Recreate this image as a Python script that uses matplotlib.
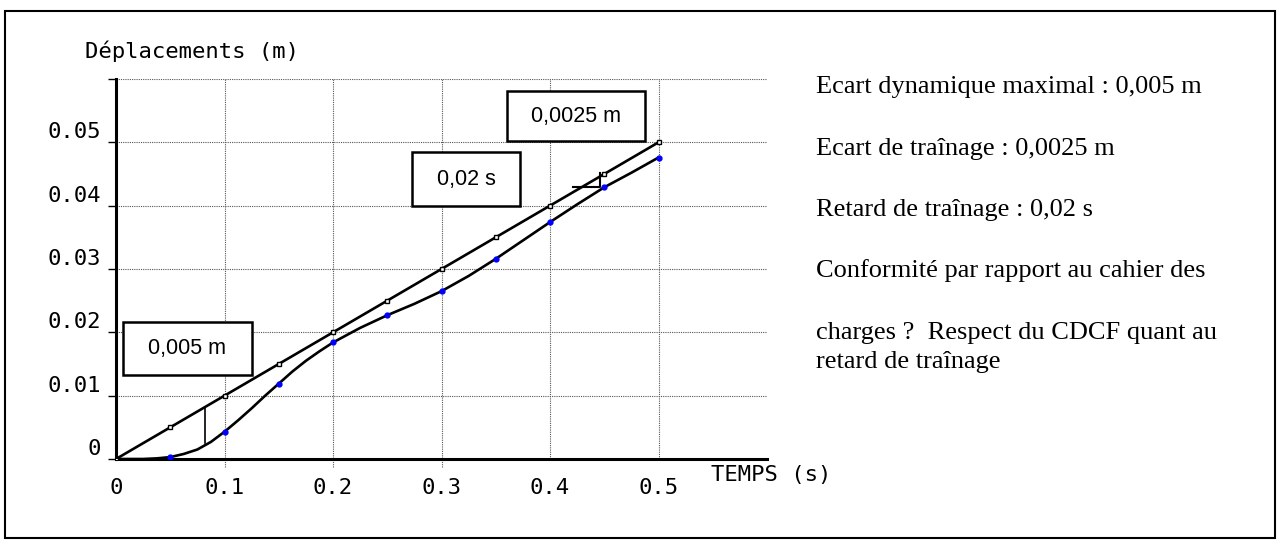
import matplotlib.pyplot as plt
from matplotlib.patches import Rectangle

# consigne (rampe) et réponse mesurée
t_ref = [0, 0.05, 0.1, 0.15, 0.2, 0.25, 0.3, 0.35, 0.4, 0.45, 0.5]
d_ref = [0, 0.005, 0.01, 0.015, 0.02, 0.025, 0.03, 0.035, 0.04, 0.045, 0.05]

t_resp = [0, 0.0125, 0.025, 0.0375, 0.05, 0.0625, 0.075, 0.0875, 0.1, 0.1125,
          0.125, 0.1375, 0.15, 0.1625, 0.175, 0.1875, 0.2, 0.225, 0.25,
          0.275, 0.3, 0.325, 0.35, 0.375, 0.4, 0.425, 0.45, 0.475, 0.5]
d_resp = [0, 0.0000, 0.0000, 0.0001, 0.0003, 0.0008, 0.0015, 0.0027, 0.0043,
          0.0061, 0.0080, 0.0100, 0.0119, 0.0138, 0.0155, 0.0170, 0.0184,
          0.0207, 0.0227, 0.0245, 0.0265, 0.0289, 0.0316, 0.0345, 0.0374,
          0.0402, 0.0429, 0.0452, 0.0476]
t_mark = [0.05, 0.1, 0.15, 0.2, 0.25, 0.3, 0.35, 0.4, 0.45, 0.5]

x_ticks = [0, 0.1, 0.2, 0.3, 0.4, 0.5]
x_labels = ['0', '0.1', '0.2', '0.3', '0.4', '0.5']
y_ticks = [0, 0.01, 0.02, 0.03, 0.04, 0.05, 0.06]
y_labels = ['0', '0.01', '0.02', '0.03', '0.04', '0.05', '']

ecart_dyn_t, ecart_dyn_lo, ecart_dyn_hi = 0.082, 0.0025, 0.0082
trainage_t, trainage_lo, trainage_hi, trainage_t0 = 0.446, 0.0429, 0.0452, 0.421

boxes = [('0,005 m', 0.0064, 0.0133, 0.1186, 0.0083),
         ('0,02 s', 0.273, 0.0400, 0.0996, 0.0084),
         ('0,0025 m', 0.36, 0.0502, 0.1276, 0.0079)]

notes = ['Ecart dynamique maximal : 0,005 m',
         'Ecart de traînage : 0,0025 m',
         'Retard de traînage : 0,02 s',
         'Conformité par rapport au cahier des',
         'charges ?  Respect du CDCF quant au',
         'retard de traînage']
notes_y = [93, 155, 216, 277, 339, 368]

W, H = 1283, 549
fig = plt.figure(figsize=(W / 100, H / 100), dpi=100)
ax = fig.add_axes([116 / W, (H - 459) / H, 651 / W, 380 / H])
ax.set_xlim(0, 0.6)
ax.set_ylim(0, 0.06)

mono = 'DejaVu Sans Mono'

# grille pointillée
grid_kw = dict(color='#555555', lw=0.8, linestyle=(0, (1, 1)))
for y in y_ticks[1:]:
    ax.plot([0, 0.6], [y, y], **grid_kw)
for x in x_ticks[1:]:
    y_low = -0.0013 if x < 0.35 else 0
    ax.plot([x, x], [y_low, 0.06], clip_on=False, **grid_kw)

for s in ['top', 'right']:
    ax.spines[s].set_visible(False)
for s in ['left', 'bottom']:
    ax.spines[s].set_linewidth(2.2)

ax.set_xticks(x_ticks)
ax.set_xticklabels(x_labels, fontfamily=mono, fontsize=16)
ax.tick_params(axis='x', length=0, pad=14)
ax.set_yticks(y_ticks)
ax.set_yticklabels(y_labels, fontfamily=mono, fontsize=16, va='bottom')
ax.tick_params(axis='y', length=6, width=1, pad=5)

ax.plot(t_ref, d_ref, color='black', lw=1.9, marker='s', ms=3,
        mfc='white', mec='black', mew=1, zorder=3)
ax.plot(t_resp, d_resp, color='black', lw=1.9, zorder=3)
resp_mark = [d for t, d in zip(t_resp, d_resp) if t in t_mark]
ax.plot(t_mark, resp_mark, ls='none', marker='o', ms=3.5,
        color='blue', zorder=4)

ax.plot([ecart_dyn_t, ecart_dyn_t], [ecart_dyn_lo, ecart_dyn_hi],
        color='black', lw=1.2)
ax.plot([trainage_t0, trainage_t, trainage_t], [trainage_lo, trainage_lo, trainage_hi],
        color='black', lw=1.5)

for txt, x0, y0, w, h in boxes:
    ax.add_patch(Rectangle((x0, y0), w, h, fc='white', ec='black', lw=1.8,
                           zorder=5, clip_on=False))
    ax.text(x0 + w / 2, y0 + h / 2, txt, ha='center', va='center',
            fontfamily='Liberation Sans', fontsize=15.5, zorder=6)

ax.text(-0.029, 0.0644, 'Déplacements (m)', fontfamily=mono, fontsize=16,
        va='center', ha='left', clip_on=False)
ax.text(0.548, -0.0025, 'TEMPS (s)', fontfamily=mono, fontsize=16,
        va='center', ha='left', clip_on=False)

for txt, yb in zip(notes, notes_y):
    fig.text(816 / W, 1 - yb / H, txt, fontfamily='Liberation Serif',
             fontsize=19, va='baseline', ha='left')

fig.patches.append(Rectangle((5 / W, 1 - 538 / H), 1270 / W, 527 / H,
                             transform=fig.transFigure, fill=False,
                             ec='black', lw=1.5))

fig.savefig('out.png', dpi=100)
